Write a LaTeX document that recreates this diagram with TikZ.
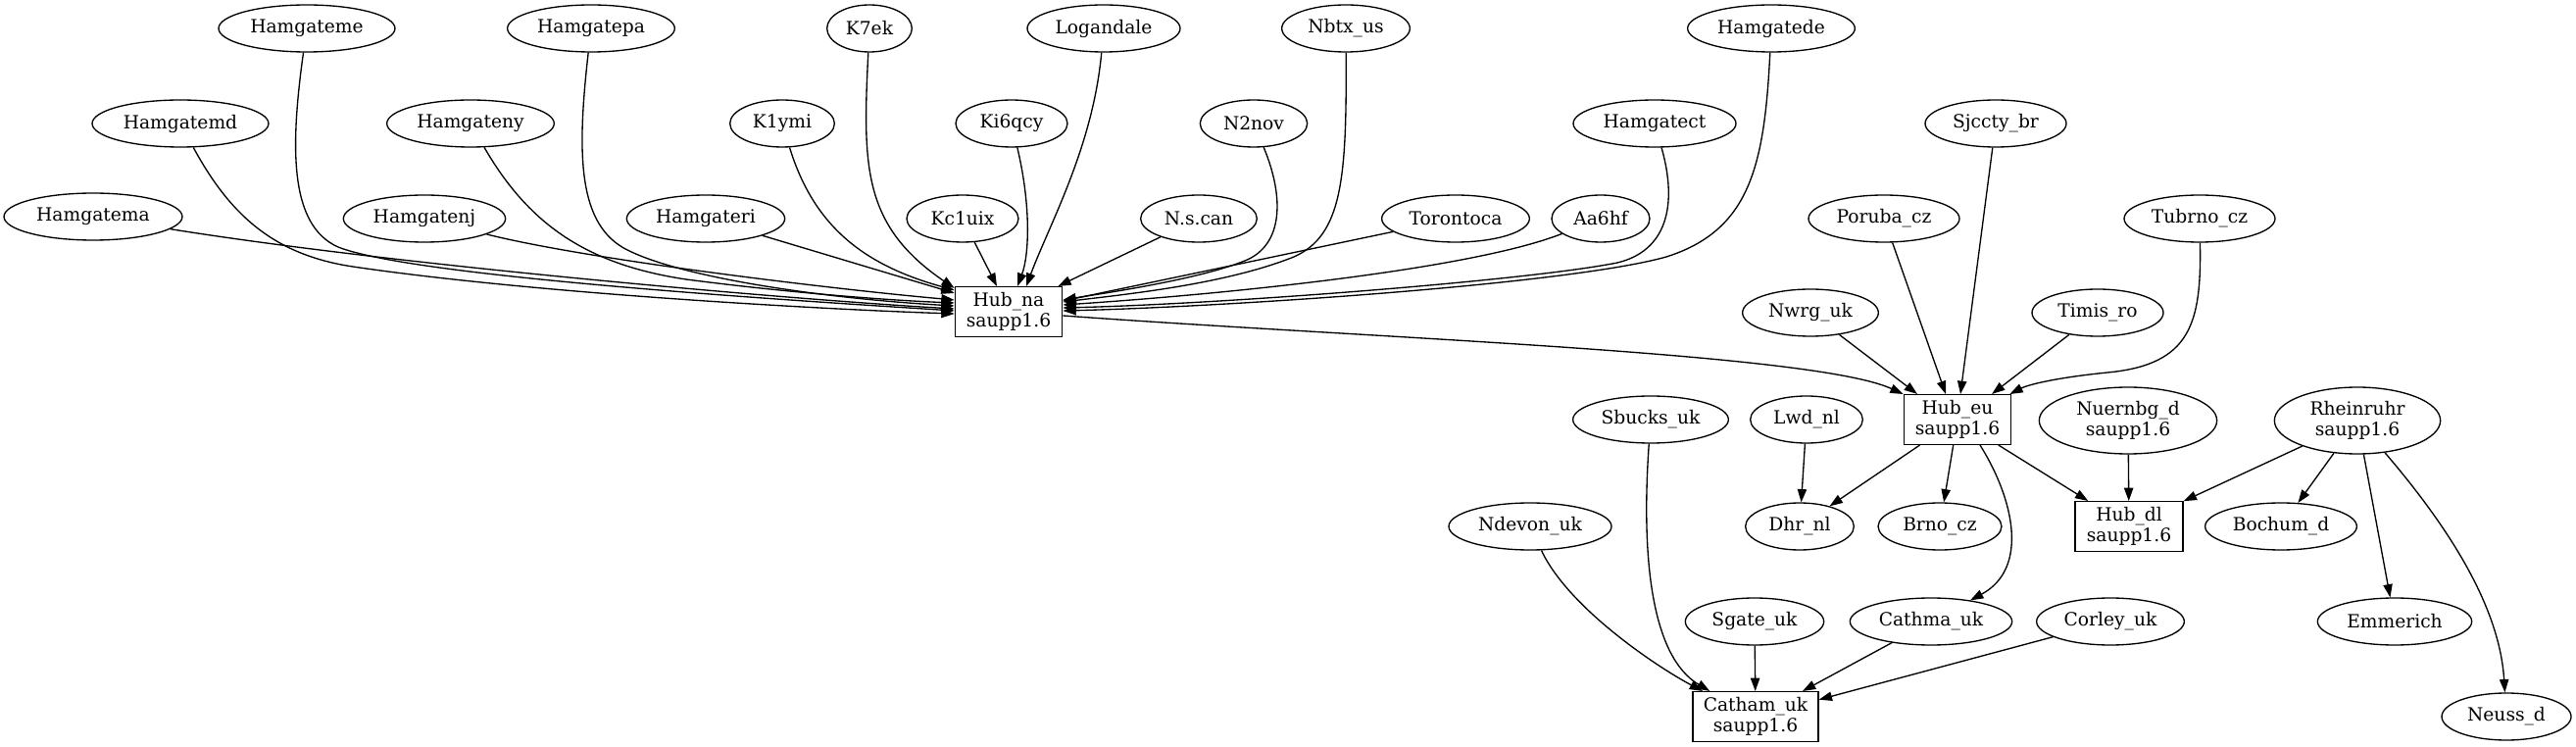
\documentclass[tikz,border=0pt]{standalone}
\usepackage{fontspec}
\setmainfont{DejaVu Serif}
\usetikzlibrary{shapes.geometric,arrows.meta}
\begin{document}
\begin{tikzpicture}[x=0.75pt,y=-0.75pt,
  every node/.style={font=\fontsize{14pt}{15.5pt}\selectfont},
  el/.style={ellipse, draw, line width=1pt, inner sep=0pt, minimum height=36pt, align=center},
  el2/.style={el, minimum height=51pt},
  bx/.style={rectangle, draw, line width=1pt, inner sep=0pt, minimum height=38pt, align=center},
  edge/.style={-{Triangle[length=10pt,width=7pt]}, line width=1pt}]
\useasboundingbox (0,0) rectangle (2628,762);
% row 1
\node[el, minimum width=135pt] (hgme) at (313,29) {Hamgateme};
\node[el, minimum width=128pt] (hgmpa) at (603,29) {Hamgatepa};
\node[el, minimum width=65pt] (k7ek) at (887,29) {K7ek};
\node[el, minimum width=117pt] (logan) at (1126,29) {Logandale};
\node[el, minimum width=98pt] (nbtx) at (1373,29) {Nbtx\_us};
\node[el, minimum width=128pt] (hgmde) at (1807,29) {Hamgatede};
% row 2
\node[el, minimum width=135pt] (hgmd) at (184,126) {Hamgatemd};
\node[el, minimum width=128pt] (hgmny) at (480,126) {Hamgateny};
\node[el, minimum width=80pt] (k1ymi) at (798,126) {K1ymi};
\node[el, minimum width=85.5pt] (ki6qcy) at (1032,126) {Ki6qcy};
\node[el, minimum width=82pt] (n2nov) at (1279,126) {N2nov};
\node[el, minimum width=124.5pt] (hgmct) at (1688,126) {Hamgatect};
\node[el, minimum width=108pt] (sjccty) at (2036,126) {Sjccty\_br};
% row 3
\node[el, minimum width=136.5pt] (hgma) at (95,221) {Hamgatema};
\node[el, minimum width=124pt] (hgmnj) at (433,223) {Hamgatenj};
\node[el, minimum width=121pt] (hgmri) at (720,223) {Hamgateri};
\node[el, minimum width=85.5pt] (kc1uix) at (982,223) {Kc1uix};
\node[el, minimum width=89pt] (nscan) at (1223,223) {N.s.can};
\node[el, minimum width=113pt] (toronto) at (1485,223) {Torontoca};
\node[el, minimum width=75pt] (aa6hf) at (1633,223) {Aa6hf};
\node[el, minimum width=115.5pt] (poruba) at (1922,223) {Poruba\_cz};
\node[el, minimum width=115.5pt] (tubrno) at (2244,223) {Tubrno\_cz};
% hubs and lower rows
\node[bx, minimum width=82pt] (hna) at (1029,318) {Hub\_na\\saupp1.6};
\node[el, minimum width=104pt] (nwrg) at (1847,319) {Nwrg\_uk};
\node[el, minimum width=100.5pt] (timis) at (2140,319) {Timis\_ro};
\node[bx, minimum width=82pt] (heu) at (1997,428) {Hub\_eu\\saupp1.6};
\node[el, minimum width=119pt] (sbucks) at (1684,428) {Sbucks\_uk};
\node[el, minimum width=86pt] (lwd) at (1843,428) {Lwd\_nl};
\node[el2, minimum width=136pt] (nuern) at (2171,429) {Nuernbg\_d\\saupp1.6};
\node[el2, minimum width=127pt] (rhein) at (2405,429) {Rheinruhr\\saupp1.6};
\node[el, minimum width=124.5pt] (ndevon) at (1561,537) {Ndevon\_uk};
\node[el, minimum width=83pt] (dhr) at (1836,537) {Dhr\_nl};
\node[el, minimum width=94.5pt] (brno) at (1979,537) {Brno\_cz};
\node[bx, minimum width=82.5pt] (hdl) at (2172,537) {Hub\_dl\\saupp1.6};
\node[el, minimum width=116pt] (bochum) at (2327,537) {Bochum\_d};
\node[el, minimum width=106pt] (sgate) at (1790,634) {Sgate\_uk};
\node[el, minimum width=124pt] (cathma) at (1970,634) {Cathma\_uk};
\node[el, minimum width=113pt] (corley) at (2153,634) {Corley\_uk};
\node[el, minimum width=118pt] (emm) at (2443,634) {Emmerich};
\node[bx, minimum width=96pt] (catham) at (1791,731) {Catham\_uk\\saupp1.6};
\node[el, minimum width=99pt] (neuss) at (2557,731) {Neuss\_d};
% edges into Hub_na
\draw[edge] (hgma) .. controls (400,270) and (800,305) .. ([yshift=2.25pt]hna.west);
\draw[edge] (hgmd) .. controls (235,220) and (280,260) .. (360,272) .. controls (550,300) and (850,316) .. ([yshift=-1.5pt]hna.west);
\draw[edge] (hgme) .. controls (296,150) and (295,230) .. (345,252) .. controls (420,282) and (800,306) .. ([yshift=0.75pt]hna.west);
\draw[edge] (hgmpa) .. controls (588,160) and (590,230) .. (640,255) .. controls (700,285) and (850,305) .. ([yshift=4.5pt]hna.west);
\draw[edge] (hgmny) .. controls (540,230) and (600,270) .. (700,285) .. controls (800,298) and (900,306) .. ([yshift=6.75pt]hna.west);
\draw[edge] (hgmnj) .. controls (600,265) and (850,295) .. ([yshift=9pt]hna.west);
\draw[edge] (hgmri) -- ([yshift=-5.25pt]hna.north west);
\draw[edge] (k1ymi) .. controls (830,230) and (880,270) .. ([yshift=-3pt]hna.north west);
\draw[edge] (k7ek) .. controls (880,170) and (880,230) .. ([yshift=-1.5pt]hna.north west);
\draw[edge] (kc1uix) -- ([xshift=-9pt]hna.north);
\draw[edge] (ki6qcy) .. controls (1052,210) and (1050,260) .. ([xshift=6.75pt]hna.north);
\draw[edge] (logan) .. controls (1115,150) and (1070,230) .. ([xshift=13.5pt]hna.north);
\draw[edge] (nscan) -- ([xshift=-3.75pt]hna.north east);
\draw[edge] (n2nov) .. controls (1310,200) and (1310,250) .. (1270,266) .. controls (1220,286) and (1120,300) .. ([yshift=9pt]hna.east);
\draw[edge] (nbtx) .. controls (1374,180) and (1370,240) .. (1320,262) .. controls (1250,290) and (1150,300) .. ([yshift=7.5pt]hna.east);
\draw[edge] (toronto) -- ([yshift=8.25pt]hna.east);
\draw[edge] (aa6hf) .. controls (1500,275) and (1250,300) .. ([yshift=5.25pt]hna.east);
\draw[edge] (hgmct) .. controls (1712,210) and (1700,256) .. (1650,268) .. controls (1560,286) and (1250,310) .. ([yshift=3pt]hna.east);
\draw[edge] (hgmde) .. controls (1800,170) and (1785,235) .. (1700,262) .. controls (1600,290) and (1250,313) .. ([yshift=0.75pt]hna.east);
% Hub_na -> Hub_eu
\draw[edge] ([yshift=-3pt]hna.east) .. controls (1400,345) and (1850,360) .. (heu.north west);
% into Hub_eu
\draw[edge] (nwrg) -- ([xshift=-30.75pt]heu.north);
\draw[edge] (poruba) -- ([xshift=-9pt]heu.north);
\draw[edge] (sjccty) -- ([xshift=2.25pt]heu.north);
\draw[edge] (timis) -- ([xshift=26.25pt]heu.north);
\draw[edge] (tubrno) .. controls (2246,330) and (2235,372) .. (2150,380) .. controls (2100,385) and (2070,392) .. ([xshift=-1.5pt]heu.north east);
% out of Hub_eu
\draw[edge] (heu) -- (dhr);
\draw[edge] (heu) -- (brno);
\draw[edge] (heu) -- (hdl);
\draw[edge] ([xshift=17.25pt]heu.south) .. controls (2055,510) and (2070,580) .. (cathma);
\draw[edge] (lwd) -- (dhr);
\draw[edge] (nuern) -- (hdl);
\draw[edge] (rhein) -- (hdl);
\draw[edge] (rhein) -- (bochum);
\draw[edge] (rhein) -- (emm);
\draw[edge] (rhein) .. controls (2500,540) and (2550,620) .. (neuss);
% into Catham_uk
\draw[edge] (ndevon) .. controls (1600,620) and (1690,680) .. ([xshift=8pt]catham.north west);
\draw[edge] (sbucks) .. controls (1674,570) and (1685,670) .. ([xshift=13.5pt]catham.north west);
\draw[edge] (sgate) -- (catham);
\draw[edge] (cathma) -- (catham);
\draw[edge] (corley) -- (catham);
\end{tikzpicture}
\end{document}
